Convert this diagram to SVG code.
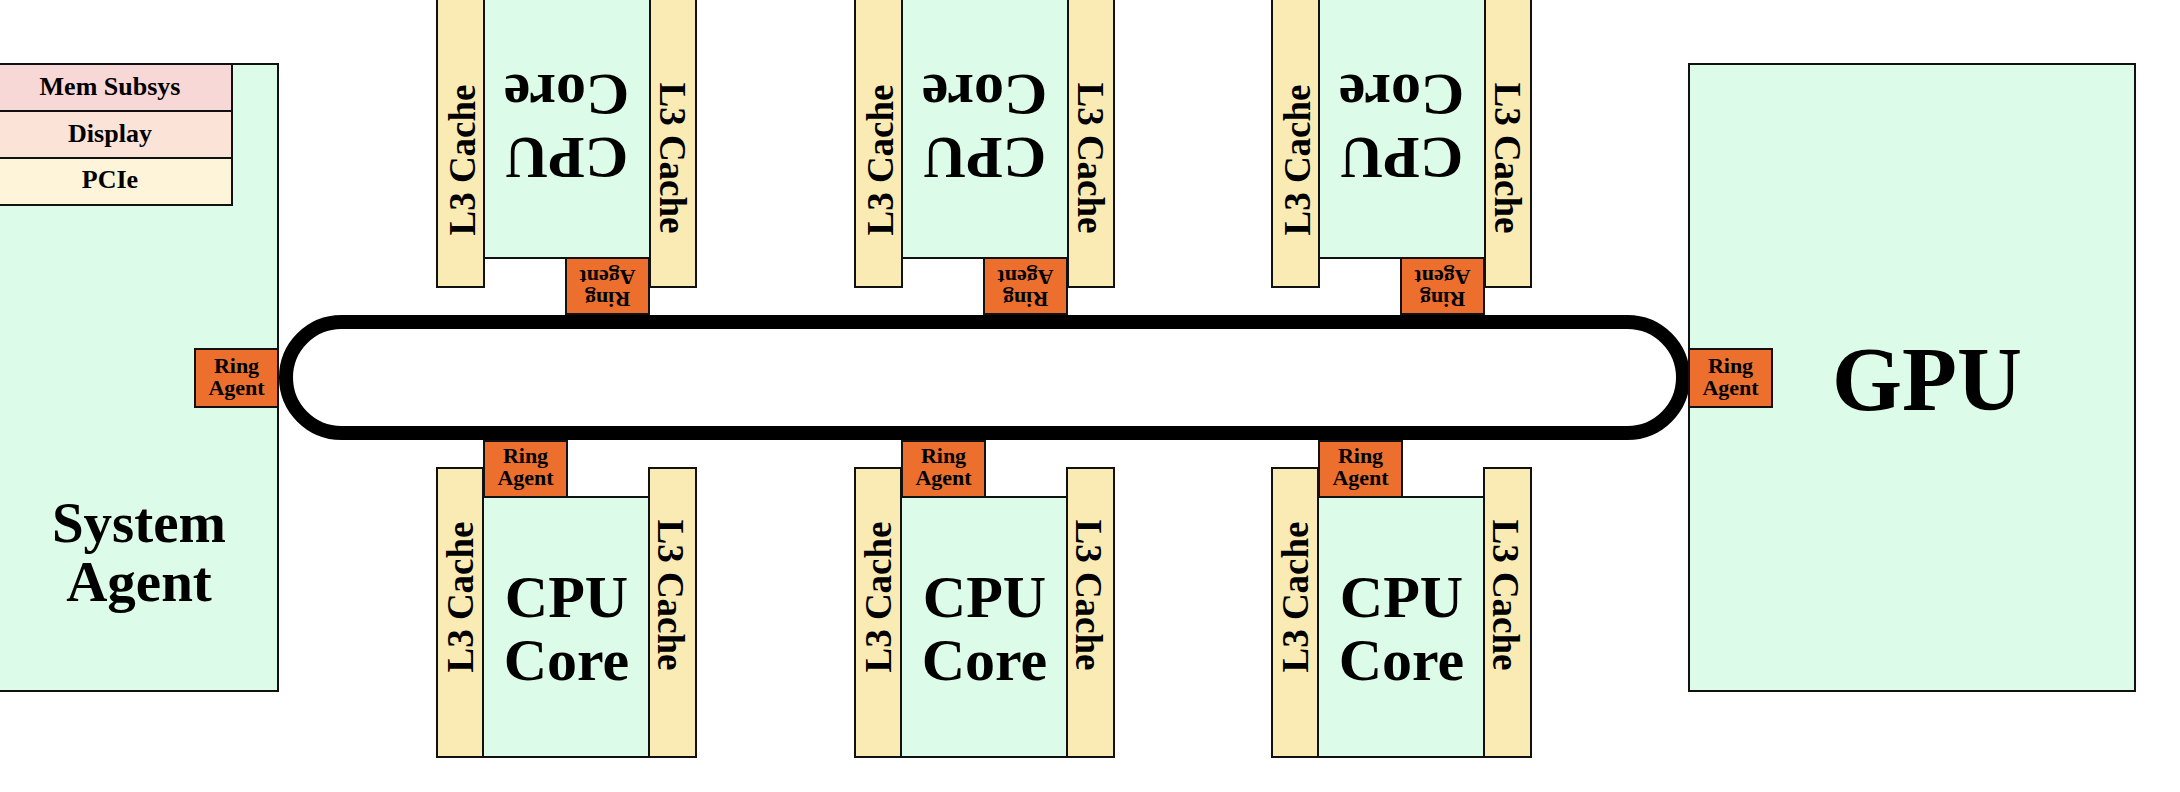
<svg xmlns="http://www.w3.org/2000/svg" width="2180" height="792" viewBox="0 0 2180 792">
<style>
  .blk { fill: #dcfce9; stroke: #111; stroke-width: 2; }
  .l3 { fill: #faebb5; stroke: #111; stroke-width: 2; }
  .ra { fill: #ec6f2d; stroke: #111; stroke-width: 2; }
  .t { font-family: "Liberation Serif", "Times New Roman", serif; font-weight: bold; fill: #000; text-anchor: middle; }
  .big { font-size: 60px; }
  .l3t { font-size: 37px; }
  .rat { font-size: 22px; }
  .sub { font-size: 26px; }
  .ring { fill: none; stroke: #000; stroke-width: 14; }
</style>
<defs>
  <g id="module">
    <rect class="l3" x="437" y="468" width="46" height="289"/>
    <rect class="l3" x="649" y="468" width="47" height="289"/>
    <rect class="blk" x="483" y="497" width="166" height="260"/>
    <rect class="ra" x="484" y="441" width="83" height="56"/>
    <text class="t rat" x="525.5" y="463">Ring</text>
    <text class="t rat" x="525.5" y="485">Agent</text>
    <text class="t big" x="566.5" y="617">CPU</text>
    <text class="t big" x="566.5" y="680">Core</text>
    <text class="t l3t" transform="translate(473,597) rotate(-90)">L3 Cache</text>
    <text class="t l3t" transform="translate(658,595) rotate(90)">L3 Cache</text>
  </g>
</defs>

<g id="connectors">
  <rect class="ring" x="286" y="322" width="1397" height="111" rx="55.5" ry="55.5"/>
</g>

<g id="system-agent">
  <rect class="blk" x="-2" y="64" width="280" height="627"/>
  <text class="t" style="font-size:57px" x="139" y="542">System</text>
  <text class="t" style="font-size:57px" x="139" y="601">Agent</text>
</g>
<g id="mem-subsys">
  <rect x="-12" y="64" width="244" height="47" fill="#f8d7d7" stroke="#111" stroke-width="2"/>
  <text class="t sub" x="110" y="95">Mem Subsys</text>
</g>
<g id="display">
  <rect x="-12" y="111" width="244" height="47" fill="#fbe4d7" stroke="#111" stroke-width="2"/>
  <text class="t sub" x="110" y="142">Display</text>
</g>
<g id="pcie">
  <rect x="-12" y="158" width="244" height="47" fill="#fdf4d9" stroke="#111" stroke-width="2"/>
  <text class="t sub" x="110" y="188">PCIe</text>
</g>
<g id="sa-ring-agent">
  <rect class="ra" x="195" y="349" width="83" height="58"/>
  <text class="t rat" x="236.5" y="373">Ring</text>
  <text class="t rat" x="236.5" y="395">Agent</text>
</g>

<g id="gpu">
  <rect class="blk" x="1689" y="64" width="446" height="627"/>
  <text class="t" style="font-size:90px" x="1927" y="410">GPU</text>
</g>
<g id="gpu-ring-agent">
  <rect class="ra" x="1689" y="349" width="83" height="58"/>
  <text class="t rat" x="1730.5" y="373">Ring</text>
  <text class="t rat" x="1730.5" y="395">Agent</text>
</g>

<g id="core-bottom-1"><use href="#module"/></g>
<g id="core-bottom-2"><use href="#module" transform="translate(418,0)"/></g>
<g id="core-bottom-3"><use href="#module" transform="translate(835,0)"/></g>
<g id="core-top-1"><use href="#module" transform="rotate(180,566.5,377.5)"/></g>
<g id="core-top-2"><use href="#module" transform="translate(418,0) rotate(180,566.5,377.5)"/></g>
<g id="core-top-3"><use href="#module" transform="translate(835,0) rotate(180,566.5,377.5)"/></g>
</svg>
